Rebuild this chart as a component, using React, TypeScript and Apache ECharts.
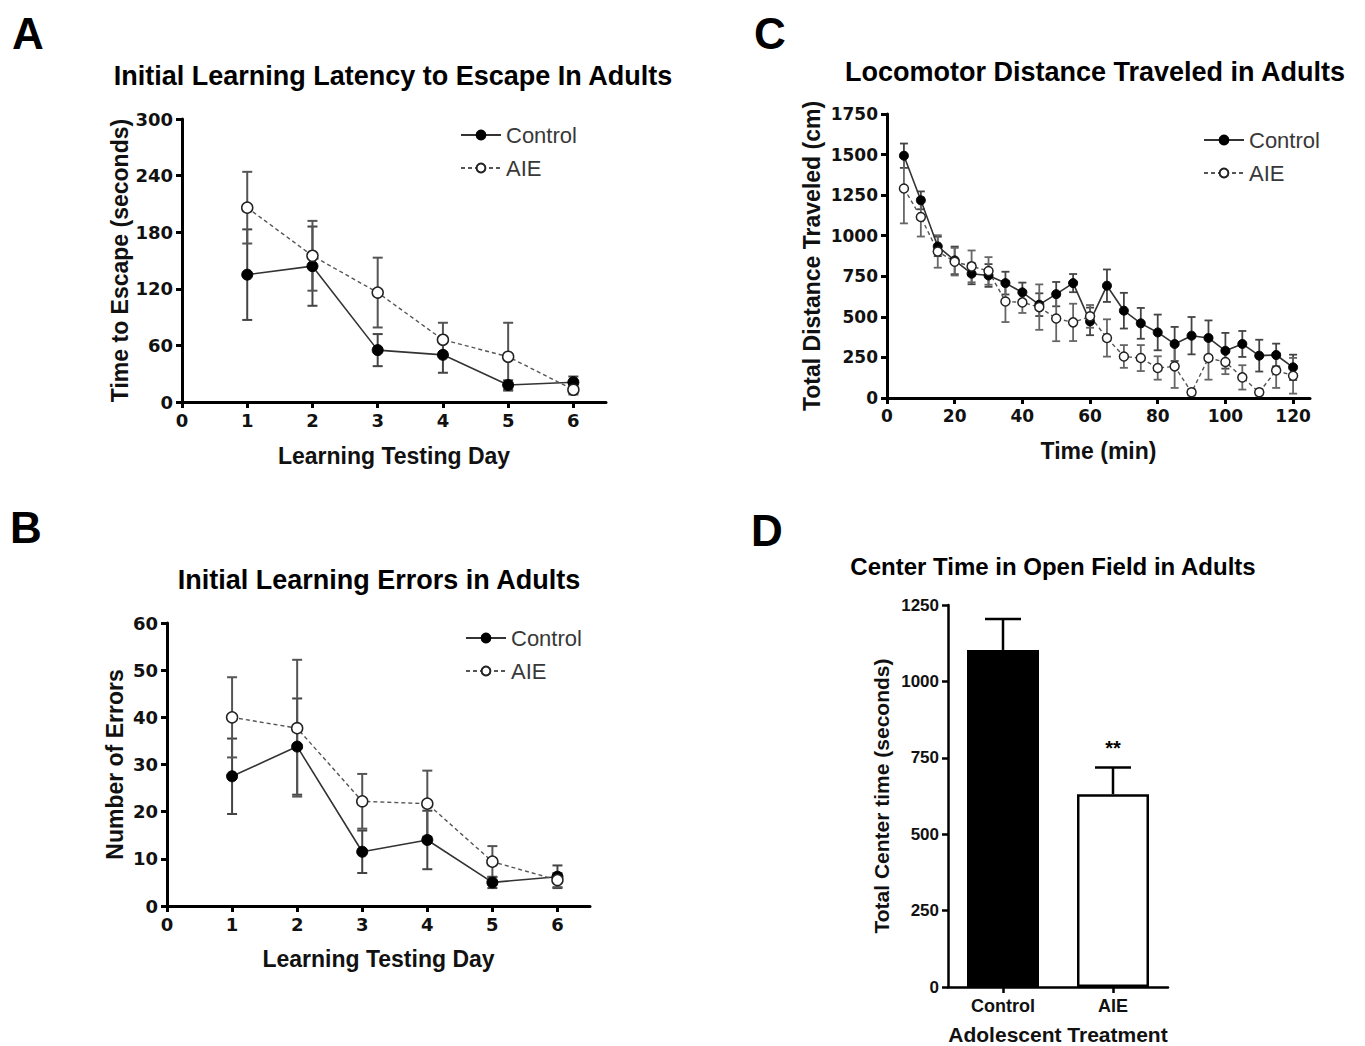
import React, { useEffect, useRef } from "react";
import * as echarts from "echarts";

// ---------- Panel A: latency to escape ----------
const days = [1, 2, 3, 4, 5, 6];
const latencyControl = [135, 144, 55, 50, 18, 21];
const latencyControlSem = [48, 42, 17, 19, 5, 6];
const latencyAIE = [206, 155, 116, 66, 48, 13];
const latencyAIESem = [38, 37, 37, 18, 36, 5];

// ---------- Panel B: number of errors ----------
const errorsControl = [27.5, 33.8, 11.5, 14, 5, 6.2];
const errorsControlSem = [8, 10.2, 4.5, 6.2, 1.2, 2.4];
const errorsAIE = [40, 37.7, 22.2, 21.7, 9.4, 5.5];
const errorsAIESem = [8.5, 14.5, 5.8, 7, 3.3, 1.5];

// ---------- Panel C: locomotor distance ----------
const minutes = [5, 10, 15, 20, 25, 30, 35, 40, 45, 50, 55, 60, 65, 70, 75, 80, 85, 90, 95, 100, 105, 110, 115, 120];
const distControl = [1493, 1218, 934, 848, 766, 755, 708, 651, 575, 640, 708, 472, 692, 538, 460, 404, 333, 384, 370, 291, 333, 261, 265, 189];
const distControlSem = [75, 55, 60, 85, 65, 70, 70, 60, 70, 75, 56, 85, 100, 110, 95, 110, 105, 115, 108, 110, 80, 98, 70, 78];
const distAIE = [1291, 1115, 903, 840, 811, 783, 595, 589, 560, 490, 466, 503, 370, 256, 246, 185, 195, 35, 246, 222, 127, 35, 170, 137];
const distAIESem = [215, 120, 100, 85, 98, 85, 127, 65, 140, 140, 115, 70, 115, 70, 80, 72, 133, 20, 133, 75, 75, 20, 108, 110];

// ---------- Panel D: center time ----------
const treatments = ["Control", "AIE"];
const centerTime = [1103, 631];
const centerTimeSem = [101, 87];
const sigMarks = ["", "**"];

// tick values
const dayTicks = [0, 1, 2, 3, 4, 5, 6];
const minuteTicks = [0, 20, 40, 60, 80, 100, 120];

const ARIAL = "Liberation Sans, Arial, sans-serif";
const WIDE = "DejaVu Sans, Liberation Sans, sans-serif";

function errRows(xs: number[], m: number[], s: number[]) {
  return xs.map((x, i) => [x, m[i] - s[i], m[i] + s[i]]);
}
function pts(xs: number[], m: number[]) {
  return xs.map((x, i) => [x, m[i]]);
}

function errorBarSeries(gridIdx: number, data: number[][], cap: number, color: string, lw: number) {
  return {
    type: "custom",
    xAxisIndex: gridIdx,
    yAxisIndex: gridIdx,
    z: 1,
    silent: true,
    encode: { x: 0, y: [1, 2] },
    data,
    renderItem: (params: any, api: any) => {
      const x = api.value(0);
      const lo = api.coord([x, Math.max(api.value(1), 0)]);
      const hi = api.coord([x, api.value(2)]);
      const h = cap / 2;
      return {
        type: "group",
        children: [
          { type: "line", shape: { x1: lo[0], y1: lo[1], x2: hi[0], y2: hi[1] }, style: { stroke: color, lineWidth: lw } },
          { type: "line", shape: { x1: hi[0] - h, y1: hi[1], x2: hi[0] + h, y2: hi[1] }, style: { stroke: color, lineWidth: lw } },
          { type: "line", shape: { x1: lo[0] - h, y1: lo[1], x2: lo[0] + h, y2: lo[1] }, style: { stroke: color, lineWidth: lw } },
        ],
      };
    },
  };
}

function lineSeries(gridIdx: number, name: string, data: number[][], open: boolean, size: number) {
  return {
    type: "line",
    name,
    xAxisIndex: gridIdx,
    yAxisIndex: gridIdx,
    z: 3,
    data,
    symbol: "circle",
    symbolSize: size,
    lineStyle: open
      ? { color: "#555", width: 1.4, type: [4, 3] }
      : { color: "#333", width: 1.6, type: "solid" },
    itemStyle: open
      ? { color: "#fff", borderColor: "#222", borderWidth: 1.5 }
      : { color: "#000", borderColor: "#000", borderWidth: 1 },
  };
}

function valueAxis(gridIdx: number, opts: any) {
  return {
    type: "value",
    gridIndex: gridIdx,
    splitLine: { show: false },
    axisLine: { show: true, onZero: false, lineStyle: { color: "#000", width: opts.lw ?? 3 } },
    axisTick: { show: true, inside: false, length: 6, lineStyle: { color: "#000", width: opts.lw ?? 3 }, ...(opts.customTicks ? { customValues: opts.customTicks } : {}) },
    axisLabel: {
      show: true,
      color: "#111",
      fontFamily: opts.labelFont ?? WIDE,
      fontWeight: "bold",
      fontSize: opts.labelSize ?? 18,
      margin: opts.labelMargin ?? 9,
      formatter: (v: number) => String(v),
      ...(opts.customTicks ? { customValues: opts.customTicks } : {}),
    },
    nameLocation: "middle",
    nameGap: opts.nameGap,
    name: opts.name,
    nameTextStyle: { fontFamily: ARIAL, fontWeight: "bold", fontSize: opts.nameSize ?? 23, color: "#111" },
    min: opts.min,
    max: opts.max,
    interval: opts.interval,
  };
}

function legendFor(left: number, top: number) {
  return {
    left,
    top,
    orient: "vertical",
    data: ["Control", "AIE"],
    itemWidth: 40,
    itemHeight: 11,
    itemGap: 11,
    selectedMode: false,
    textStyle: { fontFamily: ARIAL, fontSize: 22, color: "#383838" },
  };
}

function textEl(text: string, x: number, y: number, size: number, align = "center") {
  return {
    type: "text",
    x,
    y,
    style: {
      text,
      font: `bold ${size}px Liberation Sans, Arial, sans-serif`,
      fill: "#000",
      align,
      verticalAlign: "middle",
      textAlign: align,
      textVerticalAlign: "middle",
    },
  };
}

export default function App() {
  const ref = useRef<HTMLDivElement>(null);
  useEffect(() => {
    document.body.style.margin = "0";
    if (!ref.current) return;
    const chart = echarts.init(ref.current, null, { renderer: "svg" });

    const option: any = {
      animation: false,
      backgroundColor: "#fff",
      grid: [
        { left: 182, top: 119, width: 424, height: 283 },
        { left: 167, top: 623, width: 423, height: 283 },
        { left: 887, top: 114, width: 423, height: 284 },
        { left: 948, top: 605, width: 220, height: 382 },
      ],
      xAxis: [
        valueAxis(0, { min: 0, max: 6.5, interval: 1, customTicks: dayTicks, name: "Learning Testing Day", nameGap: 42 }),
        valueAxis(1, { min: 0, max: 6.5, interval: 1, customTicks: dayTicks, name: "Learning Testing Day", nameGap: 41 }),
        valueAxis(2, { min: 0, max: 125, interval: 20, customTicks: minuteTicks, name: "Time (min)", nameGap: 41, labelSize: 17 }),
        {
          type: "category",
          gridIndex: 3,
          data: treatments,
          axisLine: { show: true, lineStyle: { color: "#000", width: 2.5 } },
          axisTick: { show: true, alignWithLabel: true, length: 6, lineStyle: { color: "#000", width: 2.5 } },
          axisLabel: { color: "#111", fontFamily: ARIAL, fontWeight: "bold", fontSize: 18, margin: 10 },
          name: "Adolescent Treatment",
          nameLocation: "middle",
          nameGap: 37,
          nameTextStyle: { fontFamily: ARIAL, fontWeight: "bold", fontSize: 21, color: "#111" },
        },
      ],
      yAxis: [
        valueAxis(0, { min: 0, max: 300, interval: 60, name: "Time to Escape (seconds)", nameGap: 51 }),
        valueAxis(1, { min: 0, max: 60, interval: 10, name: "Number of Errors", nameGap: 41 }),
        valueAxis(2, { min: 0, max: 1750, interval: 250, name: "Total Distance Traveled (cm)", nameGap: 64, labelSize: 17 }),
        valueAxis(3, { min: 0, max: 1250, interval: 250, name: "Total Center time (seconds)", nameGap: 56, labelSize: 17, labelFont: ARIAL, lw: 2.5, nameSize: 21 }),
      ],
      legend: [legendFor(455, 119), legendFor(460, 622), legendFor(1198, 124)],
      series: [
        errorBarSeries(0, errRows(days, latencyControl, latencyControlSem), 10, "#444", 2),
        errorBarSeries(0, errRows(days, latencyAIE, latencyAIESem), 10, "#555", 2),
        lineSeries(0, "Control", pts(days, latencyControl), false, 11),
        lineSeries(0, "AIE", pts(days, latencyAIE), true, 11),

        errorBarSeries(1, errRows(days, errorsControl, errorsControlSem), 10, "#444", 2),
        errorBarSeries(1, errRows(days, errorsAIE, errorsAIESem), 10, "#555", 2),
        lineSeries(1, "Control", pts(days, errorsControl), false, 11),
        lineSeries(1, "AIE", pts(days, errorsAIE), true, 11),

        errorBarSeries(2, errRows(minutes, distControl, distControlSem), 8, "#444", 1.8),
        errorBarSeries(2, errRows(minutes, distAIE, distAIESem), 8, "#666", 1.8),
        lineSeries(2, "Control", pts(minutes, distControl), false, 9),
        lineSeries(2, "AIE", pts(minutes, distAIE), true, 9),

        {
          type: "bar",
          name: "Center",
          xAxisIndex: 3,
          yAxisIndex: 3,
          barWidth: 72,
          z: 2,
          data: centerTime.map((v, i) => ({
            value: v,
            itemStyle: i === 0
              ? { color: "#000", borderColor: "#000", borderWidth: 2 }
              : { color: "#fff", borderColor: "#000", borderWidth: 2.5 },
          })),
        },
        {
          type: "custom",
          xAxisIndex: 3,
          yAxisIndex: 3,
          z: 3,
          silent: true,
          data: centerTime.map((v, i) => [i, v, v + centerTimeSem[i]]),
          encode: { x: 0, y: [1, 2] },
          renderItem: (params: any, api: any) => {
            const i = api.value(0);
            const base = api.coord([i, api.value(1)]);
            const top = api.coord([i, api.value(2)]);
            const mark = sigMarks[params.dataIndex];
            const children: any[] = [
              { type: "line", shape: { x1: base[0], y1: base[1], x2: top[0], y2: top[1] }, style: { stroke: "#000", lineWidth: 2.5 } },
              { type: "line", shape: { x1: top[0] - 18, y1: top[1], x2: top[0] + 18, y2: top[1] }, style: { stroke: "#000", lineWidth: 2.5 } },
            ];
            if (mark) {
              children.push({
                type: "text",
                x: top[0],
                y: top[1] - 10,
                style: { text: mark, font: "bold 20px Liberation Sans, Arial, sans-serif", fill: "#000", align: "center", verticalAlign: "bottom" },
              });
            }
            return { type: "group", children };
          },
        },
      ],
      graphic: [
        textEl("A", 12, 33, 44, "left"),
        textEl("B", 10, 527, 44, "left"),
        textEl("C", 754, 33, 44, "left"),
        textEl("D", 751, 530, 44, "left"),
        textEl("Initial Learning Latency to Escape In Adults", 393, 76, 27),
        textEl("Initial Learning Errors in Adults", 379, 580, 27),
        textEl("Locomotor Distance Traveled in Adults", 1095, 72, 27),
        textEl("Center Time in Open Field in Adults", 1053, 566, 24),
      ],
    };

    chart.setOption(option);
    return () => chart.dispose();
  }, []);

  return <div ref={ref} style={{ width: 1365, height: 1046 }} />;
}
